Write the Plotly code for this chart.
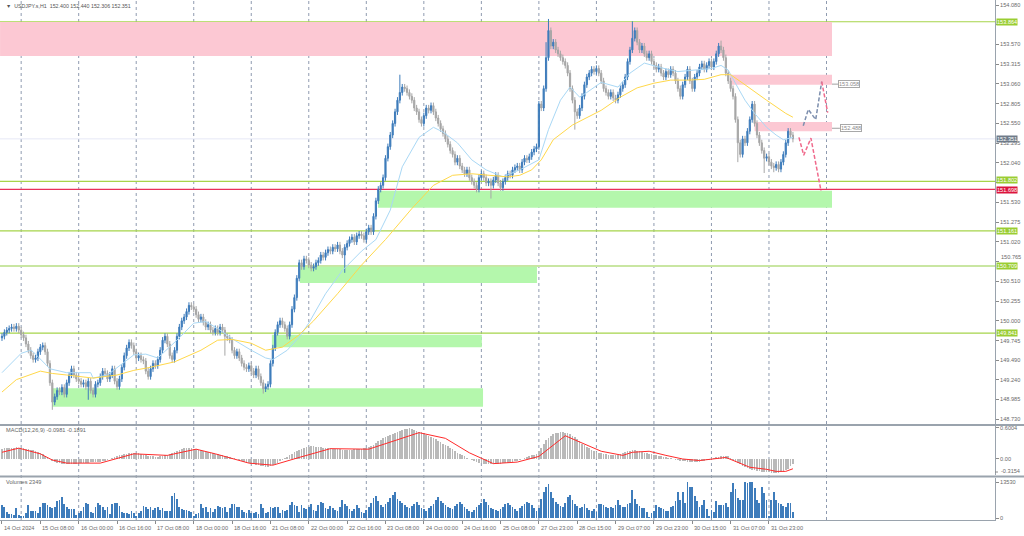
import plotly.graph_objects as go

# ---------------- data ----------------
closes = [
    149.80, 149.85, 149.88, 149.90, 149.92, 149.90, 149.93, 149.88, 149.82, 149.78,
    149.70, 149.62, 149.55, 149.50, 149.52, 149.60, 149.66, 149.68, 149.60, 149.45,
    149.20, 148.95, 149.02, 149.10, 149.08, 149.14, 149.05, 149.20, 149.30, 149.38,
    149.30, 149.25, 149.22, 149.18, 149.20, 149.15, 149.22, 149.10, 149.05, 149.18,
    149.20, 149.28, 149.35, 149.32, 149.25, 149.30, 149.38, 149.22, 149.15, 149.25,
    149.40, 149.55, 149.65, 149.72, 149.68, 149.60, 149.52, 149.55, 149.50, 149.48,
    149.35, 149.28, 149.38, 149.45, 149.42, 149.50, 149.62, 149.75, 149.80, 149.70,
    149.55, 149.50, 149.62, 149.80, 149.92, 150.00, 150.05, 150.12, 150.20, 150.18,
    150.15, 150.08, 150.02, 150.05, 149.98, 149.92, 149.95, 149.88, 149.85, 149.90,
    149.85, 149.92, 149.88, 149.80, 149.78, 149.75, 149.62, 149.55, 149.60, 149.52,
    149.45, 149.40, 149.38, 149.42, 149.35, 149.30, 149.38, 149.28, 149.20, 149.12,
    149.15, 149.18, 149.45, 149.65, 149.85, 149.95, 150.00, 149.95, 149.90, 149.80,
    149.95, 150.15, 150.30, 150.55, 150.75, 150.70, 150.80, 150.78, 150.72, 150.68,
    150.70, 150.75, 150.78, 150.85, 150.82, 150.88, 150.92, 150.90, 150.95, 150.93,
    150.98, 150.90, 150.85, 150.95, 151.00, 151.05, 151.08, 151.02, 151.10, 151.12,
    151.10, 151.05, 151.15, 151.20, 151.15, 151.35, 151.55, 151.70, 151.75, 151.85,
    152.10, 152.25, 152.40, 152.55, 152.70, 152.85, 152.95, 153.02, 153.00, 152.95,
    152.90, 152.85, 152.75, 152.70, 152.60, 152.55, 152.65, 152.75, 152.72, 152.78,
    152.70, 152.62, 152.55, 152.48, 152.42, 152.35, 152.28, 152.20, 152.15, 152.05,
    152.10, 152.00, 151.95, 151.90, 151.95, 151.85, 151.80, 151.75, 151.70, 151.85,
    151.90, 151.85, 151.78, 151.80, 151.75, 151.82, 151.88, 151.78, 151.72, 151.80,
    151.85, 151.90, 151.88, 151.95, 151.98, 152.00, 151.95, 152.05, 152.10, 152.08,
    152.12, 152.18, 152.22, 152.25, 152.80, 152.75, 153.00, 153.40, 153.75, 153.55,
    153.60, 153.50, 153.45, 153.40, 153.35, 153.30, 153.20, 153.00, 152.85, 152.70,
    152.65, 152.75, 152.90, 153.05, 153.15, 153.20, 153.25, 153.22, 153.26, 153.20,
    153.10, 153.00, 152.95, 152.90, 152.95, 152.88, 152.85, 152.92, 153.00, 153.05,
    153.15, 153.35, 153.50, 153.65, 153.75, 153.60, 153.50, 153.55, 153.45, 153.40,
    153.45, 153.35, 153.30, 153.25, 153.28, 153.20, 153.15, 153.22, 153.18, 153.25,
    153.20, 153.10, 153.00, 152.90, 153.05, 153.15, 153.25, 153.10, 153.00, 153.15,
    153.20, 153.28, 153.32, 153.25, 153.30, 153.35, 153.28, 153.35, 153.45, 153.55,
    153.50, 153.40, 153.20, 153.10, 153.00, 152.90, 152.60, 152.30, 152.15, 152.35,
    152.30, 152.45, 152.60, 152.80, 152.55, 152.40, 152.30, 152.20, 152.10, 152.12,
    152.05, 152.00, 151.98, 152.02, 151.96, 152.05, 152.15, 152.30, 152.45, 152.40, 152.351,
]
first_open = 149.78
wick_pad = 0.04
high_override = {166: 153.18, 227: 153.60, 228: 153.90, 263: 153.87, 300: 153.62, 330: 152.440}
low_override = {21: 148.85, 36: 148.98, 93: 149.55, 109: 149.06, 143: 150.62, 204: 151.58,
                239: 152.47, 307: 152.05, 318: 151.91, 322: 151.92, 330: 152.306}

volumes = [
    4890, 4210, 2270, 1480, 1360, 1020, 3750, 1140, 570, 910,
    2050, 4890, 2620, 2620, 2620, 1710, 4210, 5570, 5570, 4780,
    4320, 3750, 3980, 6250, 6820, 7850, 5340, 3980, 3410, 3410,
    3410, 1020, 1710, 2620, 3980, 5690, 5340, 2390, 1710, 3980,
    5690, 4890, 3980, 2840, 4210, 1480, 5120, 5690, 5690, 4550,
    2270, 1710, 1930, 1360, 2500, 2050, 570, 1710, 2620, 4550,
    4210, 3410, 3980, 2840, 3640, 4210, 3070, 3750, 2500, 2620,
    2620, 8190, 9440, 7050, 4210, 3410, 2840, 3070, 2500, 2270,
    800, 1360, 1710, 5340, 3750, 4210, 2270, 3750, 2270, 3300,
    4550, 4210, 3750, 4210, 2270, 3640, 5340, 5340, 4210, 3980,
    2840, 2160, 2050, 2840, 1710, 1710, 2160, 1590, 5340, 3750,
    1930, 2270, 3980, 3640, 4210, 3980, 2050, 3070, 2500, 3070,
    4890, 5910, 4890, 4550, 2270, 4890, 3750,
    3500, 4200, 5100, 3000, 2500, 4800, 6200, 5600, 3900, 3200, 4500, 3800, 2900,
    2600, 4100, 6900, 5200, 4400, 3500, 2800, 3300, 4700, 3600,
    2400, 1800, 3100, 4000, 5600, 7600, 8200, 6400, 5000, 4300,
    5200, 6100, 7400, 8600, 9800, 7200, 6500, 5800, 4900, 4100,
    3800, 4500, 5300, 6200, 4700, 3900, 3200, 2800, 3600, 4400,
    5100, 6800, 7900, 6300, 5500, 4800, 4200, 3700, 3300, 4600,
    5400, 6100, 5200, 4300, 3500, 2700, 2400, 3100, 4200, 5000,
    5800, 7000, 6200, 4900, 3800, 3300, 2900, 2600, 3500, 4300,
    5100, 5700, 4800, 4000, 3400, 2800, 3600, 4500, 5300, 6000,
    5600, 4700, 3900, 2500,
    3800, 7200, 9600, 11800, 12600, 9800,
    7400, 6100, 5300, 4600, 4100, 5800, 7900, 8800, 6900, 5200,
    4500, 3800, 4300, 5100, 3600, 3000, 2700, 3400,
    2270, 5120, 5340, 4890, 3980, 3750, 3980, 3750, 4890, 6590,
    4890, 3980, 3980, 5340, 5690, 10460, 7050, 5120, 4550, 3750,
    3640, 2270, 340, 1710, 2500, 4890, 3980, 3640, 3410, 2500,
    2500, 3980, 4550, 6250, 9660, 6820, 9660, 5690, 13420, 11600,
    11600, 8300, 6480, 3980, 4780, 6820, 3410, 570, 2840, 2270,
    6250, 4890, 4890, 4890, 5690, 3980, 9890, 13300, 10800, 7390,
    6820, 6820, 13530, 13080, 13530, 13530, 11370, 6820, 5690, 11480,
    9440, 6940, 570, 6820, 9660, 6820, 5690, 5340, 4550, 3980,
    5690, 5690, 2270,
]

macd_hist = [
    0.20, 0.21, 0.21, 0.22, 0.22, 0.22, 0.23, 0.22, 0.22, 0.21,
    0.20, 0.19, 0.18, 0.17, 0.15, 0.14, 0.12, 0.09, 0.06, 0.03,
    0.00, -0.03, -0.05, -0.07, -0.08, -0.09, -0.09, -0.09, -0.09, -0.09,
    -0.09, -0.09, -0.08, -0.08, -0.07, -0.07, -0.07, -0.06, -0.06, -0.06,
    -0.05, -0.05, -0.04, -0.03, -0.02, 0.00, 0.02, 0.04, 0.05, 0.07,
    0.08, 0.09, 0.10, 0.11, 0.12, 0.12, 0.12, 0.11, 0.10, 0.08,
    0.07, 0.06, 0.05, 0.05, 0.04, 0.04, 0.05, 0.06, 0.07, 0.08,
    0.10, 0.12, 0.14, 0.16, 0.18, 0.20, 0.21, 0.22, 0.22, 0.21,
    0.20, 0.19, 0.18, 0.17, 0.15, 0.14, 0.13, 0.12, 0.11, 0.10,
    0.09, 0.08, 0.07, 0.06, 0.05, 0.04, 0.02, 0.01, 0.00, -0.02,
    -0.04, -0.05, -0.07, -0.08, -0.09, -0.10, -0.11, -0.12, -0.13, -0.14,
    -0.15, -0.15, -0.14, -0.12, -0.10, -0.07, -0.04, -0.02, 0.01, 0.04,
    0.08, 0.10, 0.13, 0.16, 0.17, 0.20, 0.22, 0.23, 0.24, 0.25,
    0.25, 0.24, 0.24, 0.23, 0.22, 0.22, 0.21, 0.21, 0.20, 0.20,
    0.20, 0.19, 0.18, 0.18, 0.18, 0.18, 0.18, 0.19, 0.19, 0.20,
    0.20, 0.21, 0.22, 0.23, 0.25, 0.28, 0.31, 0.34, 0.37, 0.40,
    0.42, 0.44, 0.47, 0.49, 0.51, 0.53, 0.55, 0.57, 0.58, 0.59,
    0.60, 0.59, 0.57, 0.55, 0.53, 0.52, 0.50, 0.47, 0.45, 0.42,
    0.40, 0.38, 0.35, 0.33, 0.30, 0.28, 0.25, 0.22, 0.19, 0.15,
    0.12, 0.10, 0.07, 0.05, 0.02, 0.00, -0.02, -0.04, -0.05, -0.07,
    -0.08, -0.09, -0.09, -0.10, -0.10, -0.10, -0.10, -0.09, -0.09, -0.08,
    -0.08, -0.07, -0.06, -0.05, -0.04, -0.03, -0.02, 0.00, 0.01, 0.03,
    0.05, 0.07, 0.08, 0.10, 0.15, 0.22, 0.30, 0.36, 0.41, 0.45,
    0.48, 0.50, 0.51, 0.52, 0.52, 0.51, 0.50, 0.48, 0.45, 0.42,
    0.38, 0.34, 0.30, 0.27, 0.24, 0.21, 0.18, 0.16, 0.14, 0.12,
    0.11, 0.10, 0.09, 0.08, 0.08, 0.07, 0.07, 0.08, 0.10, 0.12,
    0.14, 0.15, 0.16, 0.17, 0.17, 0.16, 0.15, 0.14, 0.12, 0.11,
    0.10, 0.09, 0.08, 0.07, 0.06, 0.05, 0.04, 0.03, 0.02, 0.01,
    0.00, -0.01, -0.02, -0.03, -0.04, -0.04, -0.05, -0.05, -0.05, -0.05,
    -0.05, -0.05, -0.04, -0.03, -0.02, -0.01, 0.01, 0.02, 0.03, 0.04,
    0.05, 0.06, 0.06, 0.05, 0.02, -0.02, -0.05, -0.08, -0.10, -0.13,
    -0.15, -0.17, -0.19, -0.21, -0.22, -0.23, -0.24, -0.25, -0.25, -0.26,
    -0.26, -0.27, -0.27, -0.27, -0.27, -0.26, -0.25, -0.22, -0.19, -0.14, -0.0981,
]

signal_idx = [0, 7, 16, 21, 27, 41, 55, 69, 81, 89, 103, 113, 124, 137, 153, 165, 174, 185,
              195, 205, 215, 224, 235, 250, 259, 263, 270, 277, 284, 291, 298, 302, 312, 319,
              323, 327, 330]
signal_val = [0.13, 0.21, 0.10, -0.02, -0.08, -0.08, 0.10, 0.07, 0.19, 0.10, -0.08, -0.12,
              0.03, 0.20, 0.19, 0.38, 0.51, 0.40, 0.12, -0.09, -0.06, 0.05, 0.45, 0.15, 0.07,
              0.13, 0.15, 0.07, 0.00, -0.03, 0.00, 0.03, -0.16, -0.20, -0.24, -0.24, -0.1891]

ma_fast_idx = [0, 8, 12, 13, 20, 27, 37, 38, 44, 51, 55, 60, 65, 73, 80, 85, 90, 97, 104, 110,
               113, 119, 124, 128, 135, 142, 150, 156, 162, 167, 174, 180, 184, 190, 196, 202,
               209, 216, 224, 228, 233, 237, 241, 244, 250, 257, 262, 268, 275, 282, 289, 296,
               300, 303, 306, 310, 314, 319, 323, 326, 330]
ma_fast_val = [149.33, 149.58, 149.62, 149.60, 149.38, 149.33, 149.33, 149.26, 149.30, 149.47,
               149.56, 149.57, 149.52, 149.75, 149.97, 149.99, 149.90, 149.75, 149.62, 149.52,
               149.50, 149.62, 149.79, 149.97, 150.35, 150.65, 150.90, 151.05, 151.43, 151.99,
               152.37, 152.50, 152.44, 152.30, 152.08, 151.95, 151.86, 151.95, 152.08, 152.47,
               152.85, 153.02, 152.89, 152.95, 153.08, 153.02, 153.20, 153.33, 153.27, 153.22,
               153.24, 153.26, 153.30, 153.24, 153.07, 152.85, 152.68, 152.50, 152.40, 152.34,
               152.37]

ma_slow_idx = [0, 6, 16, 21, 27, 38, 48, 55, 62, 72, 83, 90, 96, 104, 110, 117, 124, 130, 140,
               150, 160, 171, 180, 188, 196, 204, 211, 216, 221, 225, 230, 238, 244, 250, 258,
               265, 272, 279, 286, 293, 300, 304, 310, 313, 319, 327, 330]
ma_slow_val = [149.08, 149.24, 149.35, 149.32, 149.30, 149.26, 149.30, 149.36, 149.40, 149.47,
               149.62, 149.75, 149.76, 149.71, 149.62, 149.66, 149.82, 150.00, 150.35, 150.72,
               151.05, 151.45, 151.75, 151.88, 151.90, 151.88, 151.86, 151.88, 151.95, 152.08,
               152.34, 152.53, 152.63, 152.72, 152.89, 153.01, 153.07, 153.11, 153.11, 153.12,
               153.18, 153.18, 153.05, 152.98, 152.85, 152.68, 152.63]

# support / resistance zones (bar index from-to, price from-to)
zone_x0 = [-0.8, 303.7, 314.0, 156.9, 124.3, 112.6, 20.9]
zone_x1 = [346.3, 346.3, 346.3, 346.3, 223.2, 200.2, 200.7]
zone_p0 = [153.42, 153.05, 152.45, 151.46, 150.49, 149.66, 148.89]
zone_p1 = [153.86, 153.18, 152.57, 151.68, 150.70, 149.82, 149.13]
zone_col = ["#fcc8d3", "#fcc8d3", "#fcc8d3", "#b4f7ac", "#b4f7ac", "#b4f7ac", "#b4f7ac"]

level_prices = [153.864, 151.802, 151.698, 151.161, 150.709, 149.841]
level_colors = ["#a6d44a", "#a6d44a", "#e8305a", "#a6d44a", "#c9e6a2", "#a6d44a"]
level_bg = ["#9acd32", "#9acd32", "#dc143c", "#9acd32", "#9acd32", "#9acd32"]
level_shift = [0, 1, -1, 0, 0, 0]
current_price = 152.351

# projection paths
up_path_idx = [334.3, 336.4, 339.5, 342.0]
up_path_val = [152.52, 152.73, 152.60, 153.09]
up_tail_idx = [342.0, 344.5]
up_tail_val = [153.09, 152.69]
down_path_idx = [332.5, 334.5, 337.5, 341.7]
down_path_val = [152.37, 152.14, 152.36, 151.68]

zone_label_vals = [153.058, 152.488]
zone_label_idx = [348.8, 349.6]

tick_idx = [0, 16, 32, 48, 64, 80, 96, 112, 128, 144, 160, 176, 192, 208, 224, 240, 256, 272,
            288, 304, 320]
tick_labels = ["14 Oct 2024", "15 Oct 08:00", "16 Oct 00:00", "16 Oct 16:00", "17 Oct 08:00",
               "18 Oct 00:00", "18 Oct 16:00", "21 Oct 08:00", "22 Oct 00:00", "22 Oct 16:00",
               "23 Oct 08:00", "24 Oct 00:00", "24 Oct 16:00", "25 Oct 08:00", "27 Oct 23:00",
               "28 Oct 15:00", "29 Oct 07:00", "29 Oct 23:00", "30 Oct 15:00", "31 Oct 07:00",
               "31 Oct 23:00"]
day_sep_idx = [8, 32, 56, 80, 104, 128, 152, 176, 200, 224, 248, 272, 296, 320, 344]

price_ticks = [154.080, 153.825, 153.570, 153.315, 153.060, 152.805, 152.550, 152.295, 152.040,
               151.785, 151.530, 151.275, 151.020, 150.765, 150.510, 150.255, 150.000, 149.745,
               149.490, 149.240, 148.985, 148.730]
hidden_ticks = [153.825, 151.785]   # covered by the level labels in the original
raised_ticks = [150.765]            # peeks out just above a level label

macd_ticks = [0.6004, 0.0]
macd_tick_text = ["0.6004", "0.00"]
macd_min_label = "-0.3154"
vol_ticks = [13530, 0]
vol_tick_text = ["13530", "0"]

# ---------------- build figure ----------------
n = len(closes)
idx = list(range(n))
opens = [first_open] + closes[:-1]
highs = [high_override.get(i, max(opens[i], closes[i]) + wick_pad) for i in idx]
lows = [low_override.get(i, min(opens[i], closes[i]) - wick_pad) for i in idx]

FONT = "Liberation Sans"
FS = 5.6
TXT = "#6a6a6a"
BLUE = "#3e7cbb"
GREY = "#a6a6a6"
SEP = "#9aa3ad"

fig = go.Figure()

fig.add_trace(go.Candlestick(
    x=idx, open=opens, high=highs, low=lows, close=closes,
    increasing=dict(line=dict(color=BLUE, width=1), fillcolor=BLUE),
    decreasing=dict(line=dict(color=GREY, width=1), fillcolor=GREY),
    whiskerwidth=0, xaxis="x", yaxis="y", showlegend=False, hoverinfo="skip"))

fig.add_trace(go.Scatter(x=ma_fast_idx, y=ma_fast_val, mode="lines",
                         line=dict(color="#a9d8f5", width=1), xaxis="x", yaxis="y",
                         showlegend=False, hoverinfo="skip"))
fig.add_trace(go.Scatter(x=ma_slow_idx, y=ma_slow_val, mode="lines",
                         line=dict(color="#ffd84a", width=1), xaxis="x", yaxis="y",
                         showlegend=False, hoverinfo="skip"))

fig.add_trace(go.Scatter(x=up_path_idx, y=up_path_val, mode="lines",
                         line=dict(color="#7d8fae", width=1.5, dash="4px,2px"),
                         xaxis="x", yaxis="y", showlegend=False, hoverinfo="skip"))
fig.add_trace(go.Scatter(x=up_tail_idx, y=up_tail_val, mode="lines",
                         line=dict(color="#f06a8c", width=1.5, dash="4px,2px"),
                         xaxis="x", yaxis="y", showlegend=False, hoverinfo="skip"))
fig.add_trace(go.Scatter(x=down_path_idx, y=down_path_val, mode="lines",
                         line=dict(color="#f06a8c", width=1.5, dash="4px,2px"),
                         xaxis="x", yaxis="y", showlegend=False, hoverinfo="skip"))

fig.add_trace(go.Bar(x=idx[:len(macd_hist)], y=macd_hist,
                     marker=dict(color="#b9b9b9", line=dict(width=0)),
                     width=0.7, xaxis="x", yaxis="y2", showlegend=False, hoverinfo="skip"))
fig.add_trace(go.Scatter(x=signal_idx, y=signal_val, mode="lines",
                         line=dict(color="#ff2a2a", width=1), xaxis="x", yaxis="y2",
                         showlegend=False, hoverinfo="skip"))

fig.add_trace(go.Bar(x=idx[:len(volumes)], y=volumes, marker=dict(color=BLUE, line=dict(width=0)),
                     width=0.75, xaxis="x", yaxis="y3", showlegend=False, hoverinfo="skip"))

shapes = []
for d in day_sep_idx:
    shapes.append(dict(type="line", xref="x", yref="paper", x0=d, x1=d, y0=0, y1=1,
                       line=dict(color="#8f9bb0", width=1, dash="3px,3px"), layer="below"))
for x0, x1, p0, p1, c in zip(zone_x0, zone_x1, zone_p0, zone_p1, zone_col):
    shapes.append(dict(type="rect", xref="x", yref="y", x0=x0, x1=x1, y0=p0, y1=p1,
                       fillcolor=c, line=dict(width=0), layer="below"))
shapes.append(dict(type="line", xref="paper", yref="y", x0=0, x1=1, y0=current_price,
                   y1=current_price, line=dict(color="#e6e8f6", width=1), layer="below"))
for p, c in zip(level_prices, level_colors):
    w = 2 if c == "#c9e6a2" else 1.2
    shapes.append(dict(type="line", xref="paper", yref="y", x0=0, x1=1, y0=p, y1=p,
                       line=dict(color=c, width=w), layer="below"))
for v, xi in zip(zone_label_vals, zone_label_idx):
    shapes.append(dict(type="line", xref="x", yref="y", x0=346.3, x1=xi, y0=v, y1=v,
                       line=dict(color="#a0a0a0", width=1)))
# small tick for the MACD minimum label
shapes.append(dict(type="line", xref="paper", yref="y2", x0=1, x1=1.003, y0=-0.3154 * 0.8,
                   y1=-0.3154 * 0.8, line=dict(color="#8a8a8a", width=1)))
# panel separators
for yp in [(520 - 425) / 520, (520 - 476.5) / 520]:
    shapes.append(dict(type="line", xref="paper", yref="paper", x0=0, x1=1.03, y0=yp, y1=yp,
                       line=dict(color=SEP, width=2)))

annotations = []
annotations.append(dict(xref="paper", yref="paper", x=0.004, y=(520 - 6) / 520, xanchor="left",
                        yanchor="middle", showarrow=False,
                        text="\u25BC  USDJPY.s,H1  152.400 152.440 152.306 152.351",
                        font=dict(family=FONT, size=5.3, color="#555555")))
annotations.append(dict(xref="paper", yref="paper", x=0.004, y=(520 - 430) / 520, xanchor="left",
                        yanchor="middle", showarrow=False, text="MACD(12,26,9) -0.0981 -0.1891",
                        font=dict(family=FONT, size=FS, color="#666666")))
annotations.append(dict(xref="paper", yref="paper", x=0.004, y=(520 - 482) / 520, xanchor="left",
                        yanchor="middle", showarrow=False, text="Volumes 2349",
                        font=dict(family=FONT, size=FS, color="#666666")))
for t, lab in zip(tick_idx, tick_labels):
    annotations.append(dict(xref="x", yref="paper", x=t, y=(520 - 528) / 520, xanchor="left",
                            yanchor="middle", xshift=0, showarrow=False, text=lab,
                            font=dict(family=FONT, size=FS, color=TXT)))
for v in raised_ticks:
    annotations.append(dict(xref="paper", yref="y", x=1, y=v, xanchor="left", yanchor="middle",
                            xshift=4, yshift=5, showarrow=False, text=f"{v:.3f}",
                            font=dict(family=FONT, size=FS, color=TXT)))
annotations.append(dict(xref="paper", yref="paper", x=1, y=(520 - 471) / 520, xanchor="left",
                        yanchor="middle", xshift=4, showarrow=False, text=macd_min_label,
                        font=dict(family=FONT, size=FS, color=TXT)))
for p, bg, sh in zip(level_prices, level_bg, level_shift):
    annotations.append(dict(xref="paper", yref="y", x=1, y=p, xanchor="left", yanchor="middle",
                            xshift=1, yshift=sh, showarrow=False, text=f"{p:.3f}", bgcolor=bg,
                            borderpad=0, font=dict(family=FONT, size=FS, color="#ffffff")))
annotations.append(dict(xref="paper", yref="y", x=1, y=current_price, xanchor="left",
                        yanchor="middle", xshift=1, showarrow=False, text=f"{current_price:.3f}",
                        bgcolor="#6f7b89", borderpad=0,
                        font=dict(family=FONT, size=FS, color="#ffffff")))
for v, xi in zip(zone_label_vals, zone_label_idx):
    annotations.append(dict(xref="x", yref="y", x=xi, y=v, xanchor="left", yanchor="middle",
                            showarrow=False, text=f"{v:.3f}", bgcolor="#ffffff",
                            bordercolor="#a8a8a8", borderwidth=1, borderpad=0,
                            font=dict(family=FONT, size=FS, color="#8a8a8a")))

axis_common = dict(side="right", showgrid=False, zeroline=False, ticks="outside", ticklen=3,
                   tickcolor="#8a8a8a", tickfont=dict(family=FONT, size=FS, color=TXT),
                   showline=True, linecolor=SEP, linewidth=1, fixedrange=True)

fig.update_layout(
    width=1024, height=536,
    margin=dict(l=0, r=29, t=0, b=16),
    paper_bgcolor="#ffffff", plot_bgcolor="#ffffff",
    showlegend=False, bargap=0,
    shapes=shapes, annotations=annotations,
    xaxis=dict(domain=[0, 1], range=[-0.83, 414.3], anchor="y3", showgrid=False, zeroline=False,
               rangeslider=dict(visible=False), tickvals=tick_idx, ticktext=[""] * len(tick_idx),
               ticks="outside", ticklen=3, tickcolor="#8a8a8a", showline=True, linecolor=SEP,
               fixedrange=True),
    yaxis=dict(domain=[(520 - 424) / 520, 1], range=[148.667, 154.145], anchor="x",
               tickvals=price_ticks,
               ticktext=["" if (v in hidden_ticks or v in raised_ticks) else f"{v:.3f}"
                         for v in price_ticks],
               **axis_common),
    yaxis2=dict(domain=[(520 - 475) / 520, (520 - 426) / 520], range=[-0.310, 0.639],
                anchor="x", tickvals=macd_ticks, ticktext=macd_tick_text, **axis_common),
    yaxis3=dict(domain=[0, (520 - 478) / 520], range=[-752, 15033], anchor="x",
                tickvals=vol_ticks, ticktext=vol_tick_text, **axis_common),
)

fig.write_html("out.html", config={"displayModeBar": False, "staticPlot": True},
               post_script="document.body.style.margin='0';")
